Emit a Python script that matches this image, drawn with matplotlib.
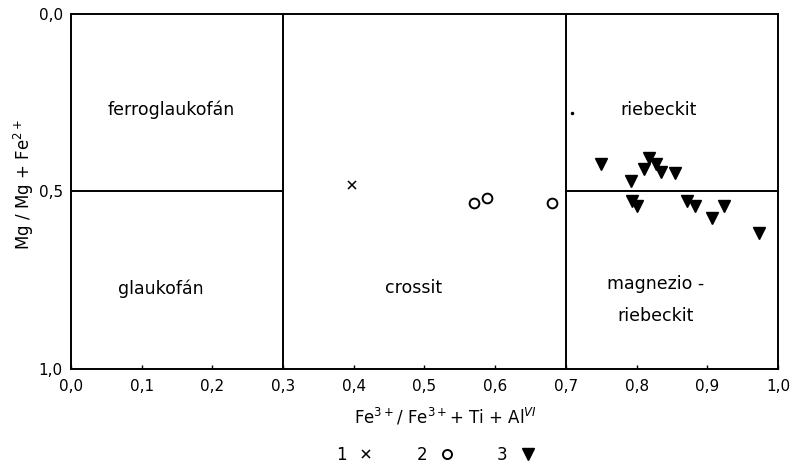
import numpy as np
from matplotlib import pyplot as plt
from matplotlib.lines import Line2D

# 1: cross
x1 = [0.398]
y1 = [0.482]
# 2: open circles
x2 = [0.570, 0.589, 0.681]
y2 = [0.532, 0.518, 0.532]
# 3: filled triangles
x3 = [0.749, 0.792, 0.810, 0.817, 0.828, 0.835, 0.854,
      0.793, 0.801, 0.871, 0.882, 0.906, 0.924, 0.973]
y3 = [0.422, 0.471, 0.438, 0.407, 0.422, 0.444, 0.449,
      0.528, 0.542, 0.526, 0.542, 0.575, 0.542, 0.617]
# stray dot in riebeckit field
x_dot = [0.708]
y_dot = [0.279]

x_ticks = [0.0, 0.1, 0.2, 0.3, 0.4, 0.5, 0.6, 0.7, 0.8, 0.9, 1.0]
x_ticklabels = ['0,0', '0,1', '0,2', '0,3', '0,4', '0,5', '0,6', '0,7', '0,8', '0,9', '1,0']
y_ticks = [0.0, 0.5, 1.0]
y_ticklabels = ['0,0', '0,5', '1,0']

field_names = ['ferroglaukofán', 'glaukofán', 'crossit', 'riebeckit', 'magnezio -\nriebeckit']
field_x = [0.142, 0.127, 0.484, 0.831, 0.827]
field_y = [0.27, 0.773, 0.773, 0.27, 0.805]

plt.rcParams['font.family'] = ['DejaVu Sans']
fig = plt.figure(figsize=(7.94, 4.65), dpi=100)
ax = fig.add_axes([0.0894, 0.2065, 0.8904, 0.7635])

lw = 1.4
for s in ax.spines.values():
    s.set_linewidth(lw)

# field boundaries
ax.axvline(0.3, color='black', lw=lw)
ax.axvline(0.7, color='black', lw=lw)
ax.plot([0.0, 0.3], [0.5, 0.5], color='black', lw=lw)
ax.plot([0.7, 1.0], [0.5, 0.5], color='black', lw=lw)

ax.plot(x1, y1, 'x', color='black', markersize=6, mew=1.1, ls='none')
ax.plot(x2, y2, 'o', mfc='white', mec='black', markersize=7, mew=1.4, ls='none')
ax.plot(x3, y3, 'v', color='black', markersize=8, ls='none')
ax.plot(x_dot, y_dot, '.', color='black', markersize=3)

for name, fx, fy in zip(field_names, field_x, field_y):
    ax.text(fx, fy, name, ha='center', va='center', fontsize=12.5,
            linespacing=2.0)

ax.set_xlim(0, 1)
ax.set_ylim(1, 0)
ax.set_xticks(x_ticks)
ax.set_xticklabels(x_ticklabels)
ax.set_yticks(y_ticks)
ax.set_yticklabels(y_ticklabels)
ax.tick_params(axis='x', direction='in', length=3, width=1, labelsize=11, pad=7)
ax.tick_params(axis='y', length=0, labelsize=11, pad=6)

ax.set_xlabel('Fe$^{3+}$/ Fe$^{3+}$+ Ti + Al$^{VI}$', fontsize=12, labelpad=2)
ax.xaxis.set_label_coords(0.53, -0.105)
ax.set_ylabel('Mg / Mg + Fe$^{2+}$', fontsize=12)
ax.yaxis.set_label_coords(-0.05, 0.52)

handles = [
    Line2D([], [], marker='x', color='black', ls='none', markersize=6, mew=1.1),
    Line2D([], [], marker='o', mfc='white', mec='black', ls='none', markersize=6.5, mew=1.4),
    Line2D([], [], marker='v', color='black', ls='none', markersize=8),
]
fig.legend(handles, ['1', '2', '3'], loc='center', bbox_to_anchor=(0.55, 0.021),
           ncol=3, frameon=False, markerfirst=False, fontsize=12,
           handlelength=1.2, handletextpad=0.6, columnspacing=2.4)

fig.savefig('out.png', dpi=100)
